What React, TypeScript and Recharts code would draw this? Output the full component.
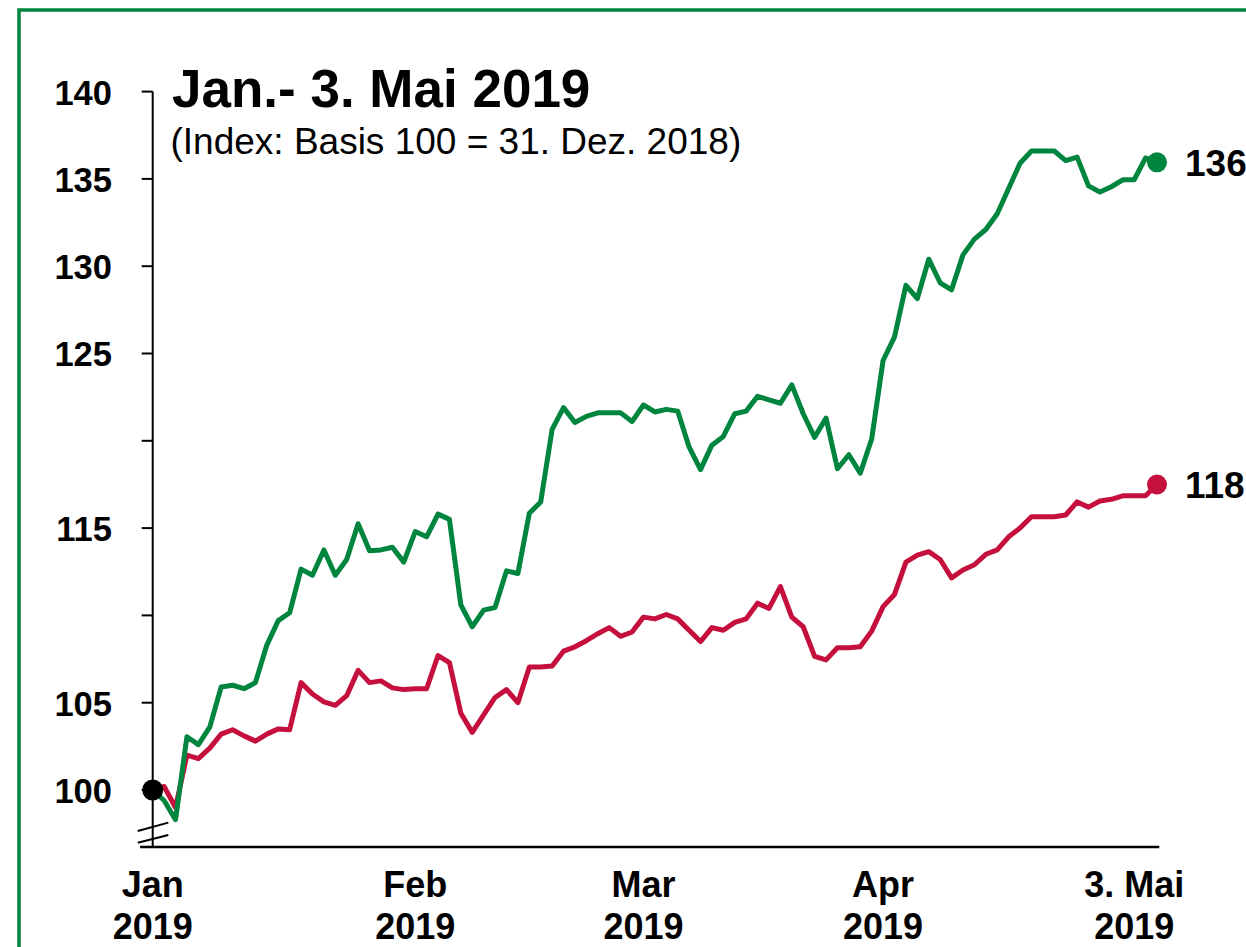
import React from "react";
import { LineChart, Line, XAxis, YAxis, ReferenceLine } from "recharts";

// Index values (Basis 100 = 31. Dez. 2018), one per trading day, 31.12.2018 … 3.5.2019
const greenSeries = [
  100, 99.4, 98.3, 103.05, 102.6, 103.6, 105.9, 106.0, 105.8, 106.15,
  108.3, 109.7, 110.15, 112.65, 112.3, 113.75, 112.3, 113.2, 115.25, 113.7,
  113.75, 113.9, 113.05, 114.8, 114.5, 115.8, 115.5, 110.6, 109.35, 110.3,
  110.45, 112.55, 112.4, 115.85, 116.5, 120.65, 121.9, 121.05, 121.4, 121.6,
  121.6, 121.6, 121.1, 122.05, 121.65, 121.8, 121.7, 119.65, 118.35, 119.75,
  120.25, 121.55, 121.7, 122.55, 122.35, 122.15, 123.2, 121.55, 120.2, 121.3,
  118.4, 119.2, 118.15, 120.1, 124.6, 125.95, 128.9, 128.15, 130.4, 129.05,
  128.65, 130.65, 131.55, 132.1, 133.0, 134.45, 135.9, 136.6, 136.6, 136.6,
  136.05, 136.25, 134.6, 134.25, 134.55, 134.95, 134.95, 136.2, 135.95,
];

const redSeries = [
  100, 100.2, 99.0, 102.0, 101.8, 102.4, 103.2, 103.45, 103.1, 102.8,
  103.2, 103.5, 103.45, 106.15, 105.5, 105.05, 104.85, 105.4, 106.85, 106.15,
  106.25, 105.85, 105.75, 105.8, 105.8, 107.7, 107.3, 104.4, 103.3, 104.3,
  105.3, 105.75, 105.0, 107.05, 107.05, 107.1, 107.95, 108.2, 108.55, 108.95,
  109.3, 108.8, 109.05, 109.9, 109.8, 110.05, 109.8, 109.15, 108.5, 109.3,
  109.15, 109.6, 109.8, 110.7, 110.4, 111.65, 109.9, 109.35, 107.65, 107.45,
  108.15, 108.15, 108.2, 109.1, 110.5, 111.2, 113.05, 113.45, 113.65, 113.2,
  112.15, 112.6, 112.9, 113.5, 113.75, 114.5, 115.0, 115.65, 115.65, 115.65,
  115.75, 116.5, 116.2, 116.55, 116.65, 116.85, 116.85, 116.85, 117.5,
];

// x-axis ticks (trading-day index) and their two-line labels
const xTickIndex = [0, 23, 43, 64, 86];
const xTickMonth = ["Jan", "Feb", "Mar", "Apr", "3. Mai"];
const xTickYear = ["2019", "2019", "2019", "2019", "2019"];

// y-axis ticks and labels (110 and 120 have a tick but no label)
const yTicks = [100, 105, 110, 115, 120, 125, 130, 135, 140];
const yTickLabels = ["100", "105", "", "115", "", "125", "130", "135", "140"];

const yMin = 96.735;
const yMax = 140;

const title = "Jan.- 3. Mai 2019";
const subtitle = "(Index: Basis 100 = 31. Dez. 2018)";

const GREEN = "#00853E";
const RED = "#C50F3C";
const FONT = "'Liberation Sans', Arial, Helvetica, sans-serif";

const data = greenSeries.map((g, i) => ({ i, green: g, red: redSeries[i] }));
const lastIndex = data.length - 1;

const renderYTick = (props: any) => {
  const { x, y, payload } = props;
  const idx = yTicks.indexOf(payload.value);
  const label = idx >= 0 ? yTickLabels[idx] : "";
  if (!label) return <g />;
  return (
    <text x={x - 29.7} y={y + 13} textAnchor="end" fontFamily={FONT} fontWeight="bold" fontSize={34.5} fill="#000">
      {label}
    </text>
  );
};

const renderXTick = (props: any) => {
  const { x, y, payload } = props;
  const idx = xTickIndex.indexOf(payload.value);
  if (idx < 0) return <g />;
  return (
    <g>
      <text x={x} y={y + 50} textAnchor="middle" fontFamily={FONT} fontWeight="bold" fontSize={36} fill="#000">
        {xTickMonth[idx]}
      </text>
      <text x={x} y={y + 92} textAnchor="middle" fontFamily={FONT} fontWeight="bold" fontSize={36} fill="#000">
        {xTickYear[idx]}
      </text>
    </g>
  );
};

const makeDot = (color: string, key: "green" | "red", startBlack: boolean) => (props: any) => {
  const { cx, cy, index, payload } = props;
  if (index === 0 && startBlack) {
    return <circle key={`d-${key}-${index}`} cx={cx} cy={cy} r={10.5} fill="#000" />;
  }
  if (index === lastIndex) {
    return (
      <g key={`d-${key}-${index}`}>
        <circle cx={cx} cy={cy} r={10} fill={color} />
        <text x={cx + 28} y={cy + 13.5} fontFamily={FONT} fontWeight="bold" fontSize={37} fill="#000">
          {Math.round(payload[key])}
        </text>
      </g>
    );
  }
  return <g key={`d-${key}-${index}`} />;
};

export default function App() {
  return (
    <div
      style={{
        position: "fixed",
        left: 0,
        top: 0,
        width: 1246,
        height: 947,
        overflow: "hidden",
        background: "#fff",
      }}
    >
      <svg
        width={1246}
        height={947}
        style={{ position: "absolute", left: 0, top: 0, pointerEvents: "none" }}
      >
        <rect x={19} y={10} width={2000} height={2000} fill="none" stroke={GREEN} strokeWidth={3.5} />
        <text x={172} y={107} fontFamily={FONT} fontWeight="bold" fontSize={53} fill="#000">
          {title}
        </text>
        <text x={170.5} y={154} fontFamily={FONT} fontSize={37} fill="#000">
          {subtitle}
        </text>
      </svg>
      <div style={{ position: "absolute", left: 0, top: 0 }}>
        <LineChart
          width={1246}
          height={947}
          data={data}
          margin={{ top: 91.6, right: 89, bottom: 10, left: 32.7 }}
        >
          <XAxis
            type="number"
            dataKey="i"
            domain={[0, lastIndex]}
            ticks={xTickIndex}
            interval={0}
            axisLine={false}
            tickLine={false}
            tickSize={0}
            tickMargin={0}
            height={90}
            tick={renderXTick}
          />
          <YAxis
            type="number"
            domain={[yMin, yMax]}
            ticks={yTicks}
            interval={0}
            allowDataOverflow
            width={120}
            tickSize={11}
            tickMargin={0}
            axisLine={{ stroke: "#000", strokeWidth: 2 }}
            tickLine={{ stroke: "#000", strokeWidth: 2 }}
            tick={renderYTick}
          />
          <ReferenceLine
            segment={[{ x: -1.1, y: yMin }, { x: 88.2, y: yMin }]}
            stroke="#000"
            strokeWidth={2.5}
            ifOverflow="visible"
          />
          <ReferenceLine
            segment={[{ x: -1.31, y: 97.65 }, { x: 1.37, y: 98.13 }]}
            stroke="#000"
            strokeWidth={2}
            ifOverflow="visible"
          />
          <ReferenceLine
            segment={[{ x: -1.31, y: 96.98 }, { x: 1.37, y: 97.42 }]}
            stroke="#000"
            strokeWidth={2}
            ifOverflow="visible"
          />
          <Line
            type="linear"
            dataKey="red"
            stroke={RED}
            strokeWidth={5}
            strokeLinejoin="round"
            dot={makeDot(RED, "red", false)}
            activeDot={false}
            isAnimationActive={false}
          />
          <Line
            type="linear"
            dataKey="green"
            stroke={GREEN}
            strokeWidth={5}
            strokeLinejoin="round"
            dot={makeDot(GREEN, "green", true)}
            activeDot={false}
            isAnimationActive={false}
          />
        </LineChart>
      </div>
    </div>
  );
}
